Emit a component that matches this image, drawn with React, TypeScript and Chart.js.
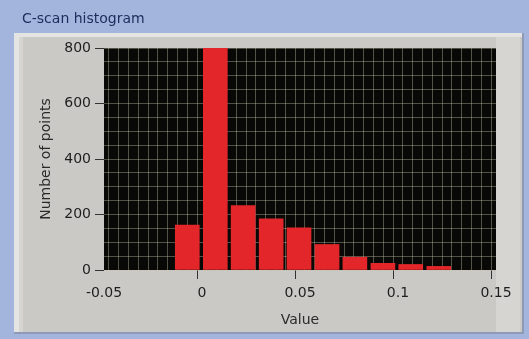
import React, { useEffect, useRef } from "react";
import { Chart, registerables } from "chart.js";

Chart.register(...registerables);

// Histogram bins (bin centres on the value axis) and counts per bin
const binCenters = [-0.0075, 0.0068, 0.0210, 0.0353, 0.0495, 0.0638, 0.0780, 0.0923, 0.1065, 0.1208];
const binCounts = [162, 800, 232, 184, 152, 92, 46, 24, 20, 13];

// Axis ranges and steps
const xRange = [-0.05, 0.15];
const xMinorStep = 0.005;
const xMajorStep = 0.05;
const yRange = [0, 800];
const yMinorStep = 50;
const yMajorStep = 200;

const TITLE = "C-scan histogram";
const X_TITLE = "Value";
const Y_TITLE = "Number of points";

const FONT = "'DejaVu Sans', Verdana, sans-serif";

const isMultiple = (v: number, step: number) =>
  Math.abs(v / step - Math.round(v / step)) < 1e-6;

const framePlugin = {
  id: "frame",
  beforeDraw(chart: any) {
    const { ctx, width, height, chartArea } = chart;
    ctx.save();
    // window background
    ctx.fillStyle = "#a4b5dd";
    ctx.fillRect(0, 0, width, height);
    // graph panel
    const px = 14, py = 33, pw = 508, ph = 299;
    ctx.fillStyle = "#cbc9c5";
    ctx.fillRect(px, py, pw, ph);
    // light bevel on top and left edges
    ctx.fillStyle = "#e4e4e2";
    ctx.fillRect(px, py, pw, 4);
    ctx.fillRect(px, py, 5, ph);
    ctx.fillStyle = "#d6d5d2";
    ctx.fillRect(px + 5, py + 4, 4, ph - 4);
    ctx.fillRect(496, py + 4, 24, ph - 4);
    // darker bottom / right shade
    ctx.fillStyle = "#8f9ab6";
    ctx.fillRect(px, py + ph, pw, 2);
    ctx.fillRect(px + pw, py, 2, ph + 2);
    // caption
    ctx.fillStyle = "#1d2c5c";
    ctx.font = `14px ${FONT}`;
    ctx.textBaseline = "alphabetic";
    ctx.textAlign = "left";
    ctx.fillText(TITLE, 22, 23);
    // plot area
    ctx.fillStyle = "#080806";
    ctx.fillRect(chartArea.left, chartArea.top, chartArea.right - chartArea.left, chartArea.bottom - chartArea.top);
    ctx.restore();
  },
};

export default function App() {
  const canvasRef = useRef<HTMLCanvasElement | null>(null);

  useEffect(() => {
    const canvas = canvasRef.current;
    if (!canvas) return;
    const chart = new Chart(canvas, {
      type: "bar",
      data: {
        datasets: [
          {
            data: binCenters.map((x, i) => ({ x, y: binCounts[i] })),
            backgroundColor: "#e3262a",
            borderWidth: 0,
            barThickness: 24,
          },
        ],
      },
      options: {
        animation: false,
        responsive: false,
        devicePixelRatio: 1,
        layout: { padding: { left: 14, right: 33, top: 48, bottom: 0 } },
        plugins: {
          legend: { display: false },
          tooltip: { enabled: false },
        },
        scales: {
          x: {
            type: "linear",
            min: xRange[0],
            max: xRange[1],
            offset: false,
            afterFit: (s: any) => {
              s.height = 69;
            },
            border: { display: false },
            grid: {
              color: "rgba(195,195,170,0.4)",
              lineWidth: 1,
              drawTicks: true,
              tickLength: 9,
              tickColor: (c: any) =>
                c.tick && isMultiple(c.tick.value, xMajorStep) ? "#333" : "rgba(0,0,0,0)",
            },
            ticks: {
              stepSize: xMinorStep,
              autoSkip: false,
              maxRotation: 0,
              padding: 6,
              color: "#1e1e1e",
              font: { family: FONT, size: 14 },
              callback: (v: any) =>
                isMultiple(Number(v), xMajorStep) ? String(Math.round(Number(v) * 100) / 100) : "",
            },
            title: {
              display: true,
              text: X_TITLE,
              color: "#2a2a2a",
              font: { family: FONT, size: 14 },
              padding: { top: 0, bottom: 10 },
            },
          },
          y: {
            type: "linear",
            min: yRange[0],
            max: yRange[1],
            afterFit: (s: any) => {
              s.width = 90;
            },
            border: { display: false },
            grid: {
              color: "rgba(195,195,170,0.4)",
              lineWidth: 1,
              drawTicks: true,
              tickLength: 9,
              tickColor: (c: any) =>
                c.tick && isMultiple(c.tick.value, yMajorStep) ? "#333" : "rgba(0,0,0,0)",
            },
            ticks: {
              stepSize: yMinorStep,
              autoSkip: false,
              padding: 4,
              color: "#1e1e1e",
              font: { family: FONT, size: 14 },
              callback: (v: any) => (isMultiple(Number(v), yMajorStep) ? String(v) : ""),
            },
            title: {
              display: true,
              text: Y_TITLE,
              color: "#2a2a2a",
              font: { family: FONT, size: 14 },
              padding: { top: 24, bottom: 0 },
            },
          },
        },
      },
      plugins: [framePlugin],
    });
    return () => chart.destroy();
  }, []);

  return (
    <div style={{ position: "fixed", left: 0, top: 0, width: 529, height: 339 }}>
      <canvas ref={canvasRef} width={529} height={339} style={{ display: "block", width: 529, height: 339 }} />
    </div>
  );
}
